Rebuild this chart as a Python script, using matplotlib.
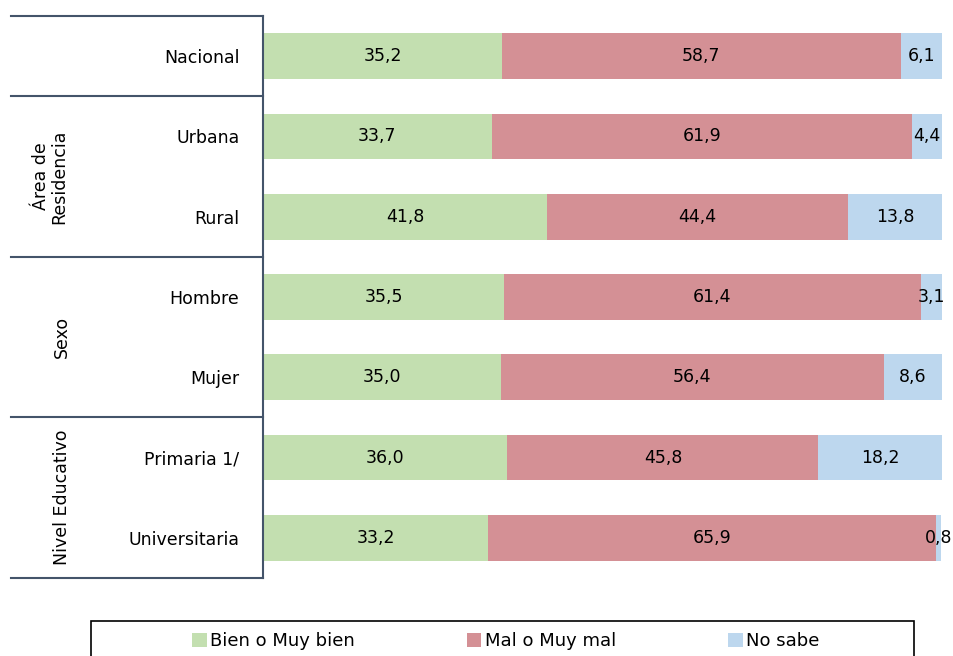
import matplotlib.pyplot as plt
from matplotlib.patches import Patch, Rectangle
import numpy as np

# Data
categories = ['Nacional', 'Urbana', 'Rural', 'Hombre', 'Mujer', 'Primaria 1/', 'Universitaria']
bien = [35.2, 33.7, 41.8, 35.5, 35.0, 36.0, 33.2]
mal = [58.7, 61.9, 44.4, 61.4, 56.4, 45.8, 65.9]
no_sabe = [6.1, 4.4, 13.8, 3.1, 8.6, 18.2, 0.8]
series_names = ['Bien o Muy bien', 'Mal o Muy mal', 'No sabe']
colors = ['#C3DFB0', '#D49095', '#BDD7EE']

# group label, first row, last row
groups = [('Área de\nResidencia', 1, 2), ('Sexo', 3, 4), ('Nivel Educativo', 5, 6)]
boundaries = [-0.5, 0.5, 2.5, 4.5, 6.5]

fig = plt.figure(figsize=(9.54, 6.56), dpi=100)
ax = fig.add_axes([263 / 954, 1 - 578 / 656, 679 / 954, 562 / 656])

y = np.arange(len(categories))
left = np.zeros(len(categories))
for vals, col, name in zip([bien, mal, no_sabe], colors, series_names):
    vals = np.array(vals)
    ax.barh(y, vals, left=left, height=0.57, color=col, label=name)
    for yi, l, v in zip(y, left, vals):
        ax.text(l + v / 2, yi, f'{v:.1f}'.replace('.', ','), ha='center', va='center',
                fontsize=12.5, color='black')
    left = left + vals

ax.set_xlim(0, 100)
ax.set_ylim(6.5, -0.5)
ax.set_yticks(y)
ax.set_yticklabels(categories, fontsize=12.5)
ax.tick_params(axis='y', length=0, pad=17)
ax.set_xticks([])
for s in ['top', 'right', 'bottom']:
    ax.spines[s].set_visible(False)
line_col = '#44546A'
ax.spines['left'].set_color(line_col)
ax.spines['left'].set_linewidth(1.5)

# table lines on the left
xf = -(263 - 11) / 679
for b in boundaries:
    ax.plot([xf, 0], [b, b], color=line_col, lw=1.5, clip_on=False,
            transform=ax.get_yaxis_transform())

# group labels
for label, r0, r1 in groups:
    xpos = 50 if '\n' in label else 62
    ax.text((xpos - 263) / 679, (r0 + r1) / 2, label, rotation=90, ha='center', va='center',
            fontsize=12.5, transform=ax.get_yaxis_transform(), linespacing=1.0)

# legend box (bottom edge runs off the figure, as in the original)
fig.patches.append(Rectangle((91 / 954, -0.02), 823 / 954, (656 - 621) / 656 + 0.02,
                             transform=fig.transFigure, fill=False, ec='black', lw=1.2))
handles = [Patch(facecolor=c, edgecolor='none') for c in colors]
leg = fig.legend(handles, series_names, loc='center', ncol=3,
                 bbox_to_anchor=(506 / 954, 1 - 641 / 656),
                 frameon=False, fontsize=13,
                 handlelength=0.8, handleheight=0.8, handletextpad=0.2,
                 columnspacing=6.2, borderaxespad=0, borderpad=0)

fig.savefig('out.png', dpi=100)
